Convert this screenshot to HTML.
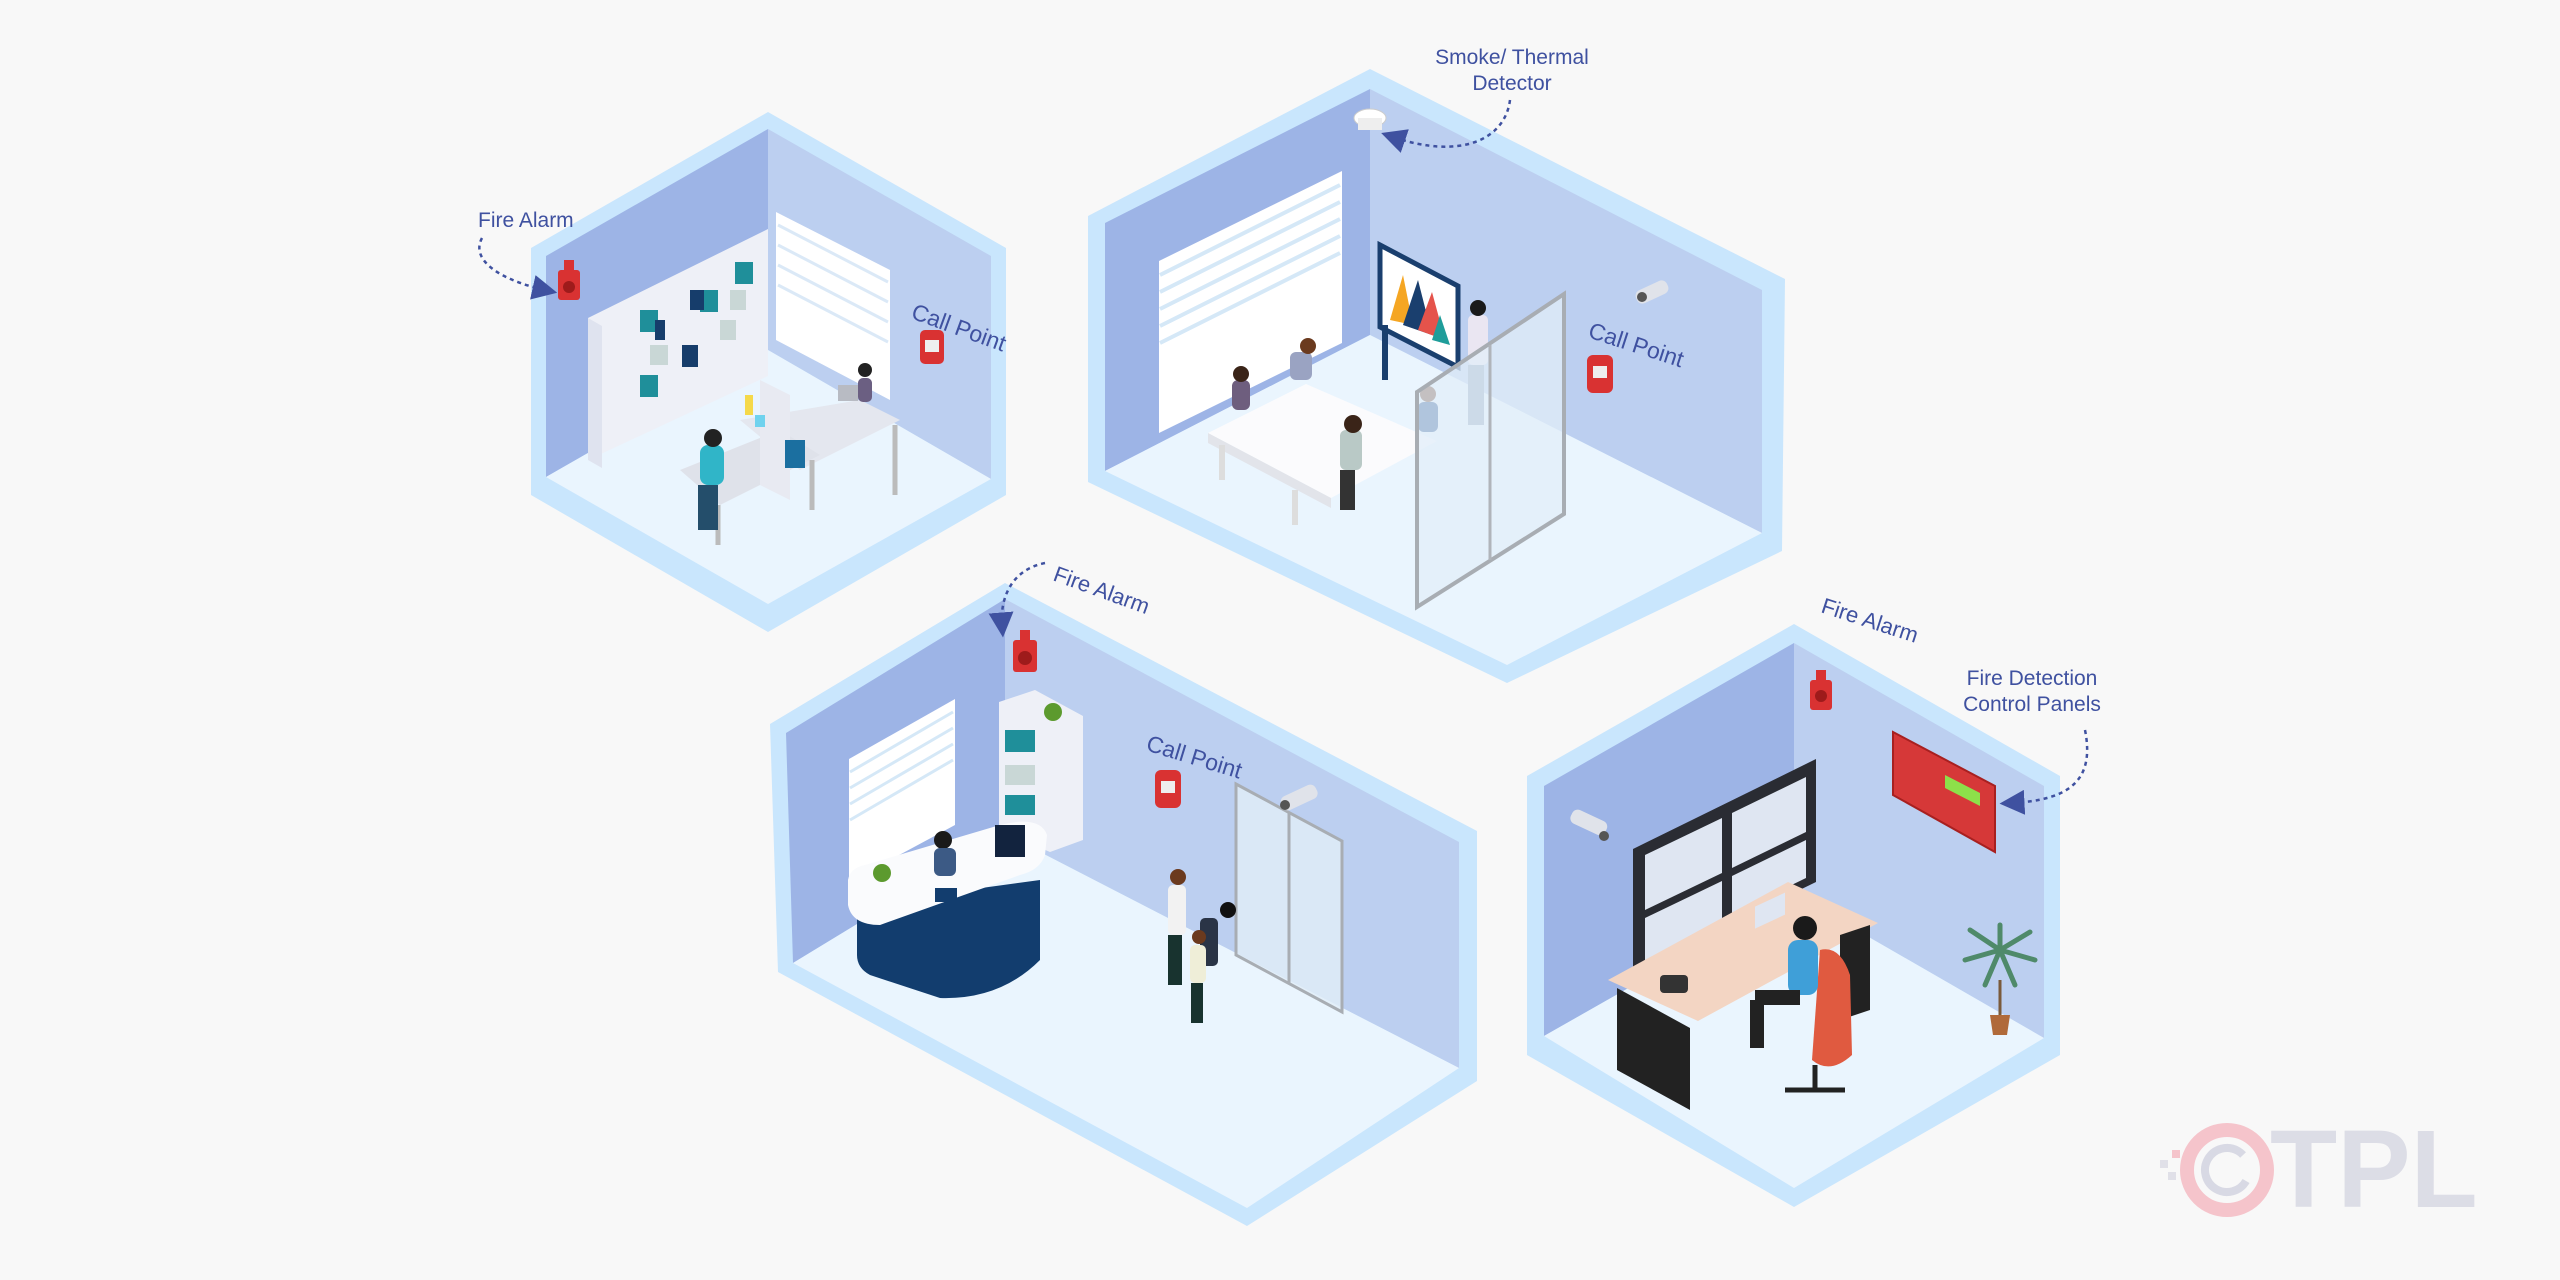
<!DOCTYPE html>
<html><head><meta charset="utf-8"><style>
html,body{margin:0;padding:0;background:#f8f8f8;}
svg{display:block}
text{font-family:"Liberation Sans Narrow","Liberation Sans",sans-serif;fill:#3f51a0}
</style></head><body>
<svg width="2560" height="1280" viewBox="0 0 2560 1280" xmlns="http://www.w3.org/2000/svg">
<rect width="2560" height="1280" fill="#f8f8f8"/>
<defs>
<marker id="ar" markerWidth="10" markerHeight="10" refX="5" refY="5" orient="auto"><path d="M0,0 L10,5 L0,10 z" fill="#3f51a0"/></marker>
</defs>

<!-- ROOM 1 -->
<polygon points="768,112 1006,248 1006,495 768,632 531,495 531,248" fill="#c9e6fd"/>
<polygon points="546,256 768,129 768,350 546,477" fill="#9db4e6"/>
<polygon points="768,129 991,256 991,479 768,350" fill="#bccff0"/>
<polygon points="546,477 768,350 991,479 768,604" fill="#eaf5fe"/>
<!-- blinds window -->
<polygon points="776,212 890,270 890,400 776,340" fill="#ffffff"/>
<g stroke="#dbe9f7" stroke-width="3"><line x1="778" y1="225" x2="888" y2="282"/><line x1="778" y1="245" x2="888" y2="302"/><line x1="778" y1="265" x2="888" y2="322"/><line x1="778" y1="285" x2="888" y2="342"/></g>
<!-- shelf -->
<polygon points="588,318 768,229 768,376 588,460" fill="#eef0f7"/>
<polygon points="588,318 602,326 602,468 588,460" fill="#dfe3ef"/>
<g fill="#1f8f9a"><rect x="640" y="375" width="18" height="22"/><rect x="700" y="290" width="18" height="22"/><rect x="735" y="262" width="18" height="22"/><rect x="640" y="310" width="18" height="22"/></g>
<g fill="#163d6b"><rect x="682" y="345" width="16" height="22"/><rect x="690" y="290" width="14" height="20"/><rect x="655" y="320" width="10" height="20"/></g>
<g fill="#c9d7d6"><rect x="650" y="345" width="18" height="20"/><rect x="720" y="320" width="16" height="20"/><rect x="730" y="290" width="16" height="20"/></g>
<!-- desks -->
<polygon points="740,420 860,400 900,420 800,470" fill="#e4e7ef"/>
<polygon points="680,470 780,430 820,455 720,505" fill="#dfe2ea"/>
<polygon points="760,380 790,395 790,500 760,485" fill="#e8eaf2"/>
<rect x="745" y="395" width="8" height="20" fill="#f5d94a"/><rect x="755" y="415" width="10" height="12" fill="#6fd2ee"/>
<rect x="785" y="440" width="20" height="28" fill="#1b6fa0"/>
<line x1="718" y1="505" x2="718" y2="545" stroke="#bbb" stroke-width="5"/><line x1="812" y1="460" x2="812" y2="510" stroke="#bbb" stroke-width="5"/><line x1="895" y1="425" x2="895" y2="495" stroke="#bbb" stroke-width="5"/>
<!-- people -->
<rect x="700" y="445" width="24" height="40" rx="8" fill="#30b5c8"/><circle cx="713" cy="438" r="9" fill="#222"/>
<rect x="698" y="485" width="20" height="45" fill="#244e6b"/>
<rect x="858" y="378" width="14" height="24" rx="5" fill="#6b5f82"/><circle cx="865" cy="370" r="7" fill="#222"/>
<rect x="838" y="385" width="20" height="16" fill="#b8bbc3"/>
<!-- alarm & call point -->
<rect x="558" y="270" width="22" height="30" rx="3" fill="#d93232"/><circle cx="569" cy="287" r="6" fill="#9e1b1b"/><rect x="564" y="260" width="10" height="10" fill="#d93232"/>
<rect x="920" y="330" width="24" height="34" rx="5" fill="#d93232"/><rect x="925" y="340" width="14" height="12" fill="#eee"/>
<text x="478" y="227" font-size="21">Fire Alarm</text>
<path d="M482,238 C470,260 500,280 545,290" fill="none" stroke="#3f51a0" stroke-width="2.5" stroke-dasharray="4,4" marker-end="url(#ar)"/>
<text x="910" y="318" font-size="23" transform="rotate(20 910 318)">Call Point</text>

<!-- ROOM 2 -->
<polygon points="1370,69 1785,279 1782,551 1507,683 1088,482 1088,216" fill="#c9e6fd"/>
<polygon points="1105,223 1370,89 1370,335 1105,471" fill="#9db4e6"/>
<polygon points="1370,89 1762,290 1762,533 1370,335" fill="#bccff0"/>
<polygon points="1105,471 1370,335 1762,533 1507,665" fill="#eaf5fe"/>
<polygon points="1159,261 1342,171 1342,343 1159,433" fill="#ffffff"/>
<g stroke="#d5e8f7" stroke-width="4"><line x1="1160" y1="275" x2="1340" y2="185"/><line x1="1160" y1="292" x2="1340" y2="202"/><line x1="1160" y1="309" x2="1340" y2="219"/><line x1="1160" y1="326" x2="1340" y2="236"/><line x1="1160" y1="343" x2="1340" y2="253"/></g>
<!-- whiteboard -->
<polygon points="1380,245 1458,286 1458,367 1380,327" fill="#ffffff" stroke="#1a3f6e" stroke-width="5"/>
<polygon points="1390,320 1403,275 1413,325" fill="#f5a623"/><polygon points="1403,325 1418,280 1432,335" fill="#1a3f6e"/><polygon points="1418,330 1432,292 1445,340" fill="#e5534b"/><polygon points="1432,340 1440,315 1450,345" fill="#1f9d9a"/>
<line x1="1385" y1="325" x2="1385" y2="380" stroke="#1a3f6e" stroke-width="6"/>
<!-- table -->
<polygon points="1208,433 1306,384 1437,441 1331,498" fill="#fbfbfd"/>
<polygon points="1208,433 1331,498 1331,508 1208,443" fill="#e2e4ea"/>
<line x1="1222" y1="445" x2="1222" y2="480" stroke="#ddd" stroke-width="6"/><line x1="1295" y1="490" x2="1295" y2="525" stroke="#ddd" stroke-width="6"/>
<!-- people -->
<rect x="1232" y="380" width="18" height="30" rx="6" fill="#6e5e7e"/><circle cx="1241" cy="374" r="8" fill="#3a2418"/>
<rect x="1290" y="352" width="22" height="28" rx="6" fill="#9aa3c2"/><circle cx="1308" cy="346" r="8" fill="#6b3a1e"/>
<rect x="1340" y="430" width="22" height="40" rx="6" fill="#b9c9c6"/><circle cx="1353" cy="424" r="9" fill="#3a2418"/><rect x="1340" y="470" width="15" height="40" fill="#333"/>
<rect x="1418" y="402" width="20" height="30" rx="6" fill="#1e4b8c"/><circle cx="1428" cy="394" r="8" fill="#6b3a1e"/>
<rect x="1468" y="315" width="20" height="50" rx="5" fill="#eae6f2"/><circle cx="1478" cy="308" r="8" fill="#1a1a1a"/><rect x="1468" y="365" width="16" height="60" fill="#8aa0b8"/>
<!-- glass door -->
<polygon points="1417,392 1564,294 1564,514 1417,607" fill="rgba(225,238,248,0.75)" stroke="#a8adb3" stroke-width="4"/>
<line x1="1490" y1="345" x2="1490" y2="560" stroke="#b0b4ba" stroke-width="3"/>
<!-- detector, cam, call point -->
<ellipse cx="1370" cy="118" rx="16" ry="9" fill="#fff" stroke="#ccc"/><rect x="1358" y="118" width="24" height="12" fill="#eee"/>
<rect x="1635" y="285" width="34" height="14" rx="6" fill="#e0e3ea" transform="rotate(-25 1652 292)"/><circle cx="1642" cy="297" r="5" fill="#555"/>
<rect x="1587" y="355" width="26" height="38" rx="6" fill="#d93232"/><rect x="1593" y="366" width="14" height="12" fill="#eee"/>
<text x="1512" y="64" font-size="21" text-anchor="middle">Smoke/ Thermal</text>
<text x="1512" y="90" font-size="21" text-anchor="middle">Detector</text>
<path d="M1510,100 C1505,140 1460,160 1393,137" fill="none" stroke="#3f51a0" stroke-width="2.5" stroke-dasharray="4,4" marker-end="url(#ar)"/>
<text x="1587" y="337" font-size="23" transform="rotate(18 1587 337)">Call Point</text>

<!-- ROOM 3 -->
<polygon points="1005,583 1477,831 1477,1081 1247,1226 778,972 770,724" fill="#c9e6fd"/>
<polygon points="786,733 1005,599 1005,834 793,963" fill="#9db4e6"/>
<polygon points="1005,599 1459,842 1459,1068 1005,834" fill="#bccff0"/>
<polygon points="793,963 1005,834 1459,1068 1247,1208" fill="#eaf5fe"/>
<polygon points="849,759 955,699 955,825 849,882" fill="#ffffff"/>
<g stroke="#d5e8f7" stroke-width="3"><line x1="850" y1="772" x2="953" y2="712"/><line x1="850" y1="788" x2="953" y2="728"/><line x1="850" y1="804" x2="953" y2="744"/><line x1="850" y1="820" x2="953" y2="760"/></g>
<!-- shelf -->
<polygon points="999,702 1035,690 1083,716 1083,840 1050,852 999,830" fill="#eef0f7"/>
<rect x="1005" y="730" width="30" height="22" fill="#1f8f9a"/><rect x="1005" y="765" width="30" height="20" fill="#c9d7d6"/><rect x="1005" y="795" width="30" height="20" fill="#1f8f9a"/>
<circle cx="1053" cy="712" r="9" fill="#5c9a2e"/>
<!-- reception desk -->
<path d="M857,905 L1040,880 L1040,960 Q1000,1000 940,998 L870,975 Q857,968 857,955 Z" fill="#123d6e"/>
<path d="M848,880 Q850,868 865,865 L1000,825 Q1040,815 1047,835 L1045,855 Q1040,870 1020,875 L880,925 Q852,925 848,905 Z" fill="#fafbfd"/>
<rect x="995" y="825" width="30" height="32" fill="#12233e"/>
<circle cx="943" cy="840" r="9" fill="#1a1a1a"/><rect x="934" y="848" width="22" height="28" rx="6" fill="#3c5a85"/>
<rect x="935" y="888" width="22" height="14" fill="#123d6e"/>
<circle cx="882" cy="873" r="9" fill="#5c9a2e"/>
<!-- elevator door -->
<polygon points="1236,784 1342,841 1342,1012 1236,955" fill="rgba(225,238,248,0.8)" stroke="#a8adb3" stroke-width="3"/>
<line x1="1289" y1="812" x2="1289" y2="983" stroke="#a8adb3" stroke-width="3"/>
<!-- people -->
<rect x="1168" y="885" width="18" height="50" rx="5" fill="#f2f2f2"/><circle cx="1178" cy="877" r="8" fill="#6b3a1e"/><rect x="1168" y="935" width="14" height="50" fill="#18332f"/>
<rect x="1200" y="918" width="18" height="48" rx="5" fill="#2a3446"/><circle cx="1228" cy="910" r="8" fill="#111"/>
<rect x="1190" y="945" width="16" height="38" rx="5" fill="#efeed8"/><circle cx="1199" cy="937" r="7" fill="#6b3a1e"/><rect x="1191" y="983" width="12" height="40" fill="#18332f"/>
<!-- alarm, call point, cam -->
<rect x="1013" y="640" width="24" height="32" rx="3" fill="#d93232"/><circle cx="1025" cy="658" r="7" fill="#9e1b1b"/><rect x="1020" y="630" width="10" height="10" fill="#d93232"/>
<rect x="1155" y="770" width="26" height="38" rx="6" fill="#d93232"/><rect x="1161" y="781" width="14" height="12" fill="#eee"/>
<rect x="1280" y="790" width="38" height="15" rx="6" fill="#e0e3ea" transform="rotate(-25 1299 797)"/><circle cx="1285" cy="805" r="5" fill="#555"/>
<text x="1052" y="580" font-size="22" transform="rotate(20 1052 580)">Fire Alarm</text>
<path d="M1045,563 C1010,570 1000,600 1002,625" fill="none" stroke="#3f51a0" stroke-width="2.5" stroke-dasharray="4,4" marker-end="url(#ar)"/>
<text x="1145" y="750" font-size="23" transform="rotate(17 1145 750)">Call Point</text>

<!-- ROOM 4 -->
<polygon points="1794,624 2060,776 2060,1055 1794,1207 1527,1055 1527,776" fill="#c9e6fd"/>
<polygon points="1544,786 1794,643 1794,894 1544,1036" fill="#9db4e6"/>
<polygon points="1794,643 2044,786 2044,1038 1794,894" fill="#bccff0"/>
<polygon points="1544,1036 1794,894 2044,1038 1794,1188" fill="#eaf5fe"/>
<!-- monitors -->
<polygon points="1633,849 1816,759 1816,882 1633,971" fill="#2a2c33"/>
<polygon points="1645,855 1722,818 1722,873 1645,910" fill="#dfe6f2"/><polygon points="1732,813 1806,777 1806,832 1732,868" fill="#dfe6f2"/>
<polygon points="1645,918 1722,881 1722,931 1645,963" fill="#dfe6f2"/><polygon points="1732,876 1806,840 1806,878 1732,914" fill="#dfe6f2"/>
<!-- desk -->
<polygon points="1608,980 1788,882 1878,923 1698,1021" fill="#f3d5c3"/>
<polygon points="1617,988 1690,1028 1690,1110 1617,1070" fill="#222"/>
<polygon points="1840,935 1870,925 1870,1010 1840,1020" fill="#222"/>
<rect x="1660" y="975" width="28" height="18" rx="4" fill="#333"/>
<!-- person + chair -->
<path d="M1820,950 Q1840,945 1850,975 L1852,1055 Q1830,1075 1812,1060 Z" fill="#e05a40"/>
<rect x="1788" y="940" width="30" height="55" rx="10" fill="#3f9fd8"/><circle cx="1805" cy="928" r="12" fill="#1a1a1a"/>
<rect x="1755" y="990" width="45" height="15" fill="#222"/><rect x="1750" y="1000" width="14" height="48" fill="#222"/>
<line x1="1815" y1="1065" x2="1815" y2="1090" stroke="#222" stroke-width="5"/>
<line x1="1785" y1="1090" x2="1845" y2="1090" stroke="#222" stroke-width="5"/>
<rect x="1755" y="905" width="30" height="22" fill="#dfe6f2" transform="skewY(-25) translate(0 820)"/>
<!-- alarm, panel, cam, plant -->
<rect x="1810" y="680" width="22" height="30" rx="3" fill="#d93232"/><circle cx="1821" cy="696" r="6" fill="#9e1b1b"/><rect x="1816" y="670" width="10" height="10" fill="#d93232"/>
<polygon points="1893,732 1995,786 1995,852 1893,795" fill="#d63838" stroke="#a82020" stroke-width="2"/>
<polygon points="1945,775 1980,793 1980,806 1945,788" fill="#8de04a"/>
<rect x="1570" y="815" width="38" height="15" rx="6" fill="#e0e3ea" transform="rotate(25 1589 822)"/><circle cx="1604" cy="836" r="5" fill="#555"/>
<path d="M2000,980 L2000,1020" stroke="#7a5a3a" stroke-width="3"/>
<g stroke="#4f8a6a" stroke-width="5" stroke-linecap="round"><line x1="2000" y1="950" x2="1970" y2="930"/><line x1="2000" y1="950" x2="2030" y2="932"/><line x1="2000" y1="950" x2="1985" y2="985"/><line x1="2000" y1="950" x2="2015" y2="985"/><line x1="2000" y1="950" x2="2000" y2="925"/><line x1="2000" y1="950" x2="1965" y2="960"/><line x1="2000" y1="950" x2="2035" y2="960"/></g>
<path d="M1990,1015 L2010,1015 L2007,1035 L1993,1035 Z" fill="#b06a3a"/>
<text x="1820" y="612" font-size="22" transform="rotate(18 1820 612)">Fire Alarm</text>
<text x="2032" y="685" font-size="21" text-anchor="middle">Fire Detection</text>
<text x="2032" y="711" font-size="21" text-anchor="middle">Control Panels</text>
<path d="M2085,730 C2095,780 2070,800 2012,803" fill="none" stroke="#3f51a0" stroke-width="2.5" stroke-dasharray="4,4" marker-end="url(#ar)"/>

<!-- CTPL logo -->
<circle cx="2227" cy="1170" r="40" fill="none" stroke="#f5c4cb" stroke-width="14"/>
<circle cx="2227" cy="1170" r="22" fill="none" stroke="#d8d9e4" stroke-width="8" stroke-dasharray="110 40" transform="rotate(30 2227 1170)"/>
<rect x="2160" y="1160" width="8" height="8" fill="#e0e0e8"/><rect x="2172" y="1150" width="8" height="8" fill="#f5c4cb"/><rect x="2168" y="1172" width="8" height="8" fill="#e0e0e8"/>
<text x="2270" y="1207" font-size="110" font-weight="bold" style="fill:#dcdde6;font-family:'Liberation Sans',sans-serif">TPL</text>
</svg>
</body></html>
